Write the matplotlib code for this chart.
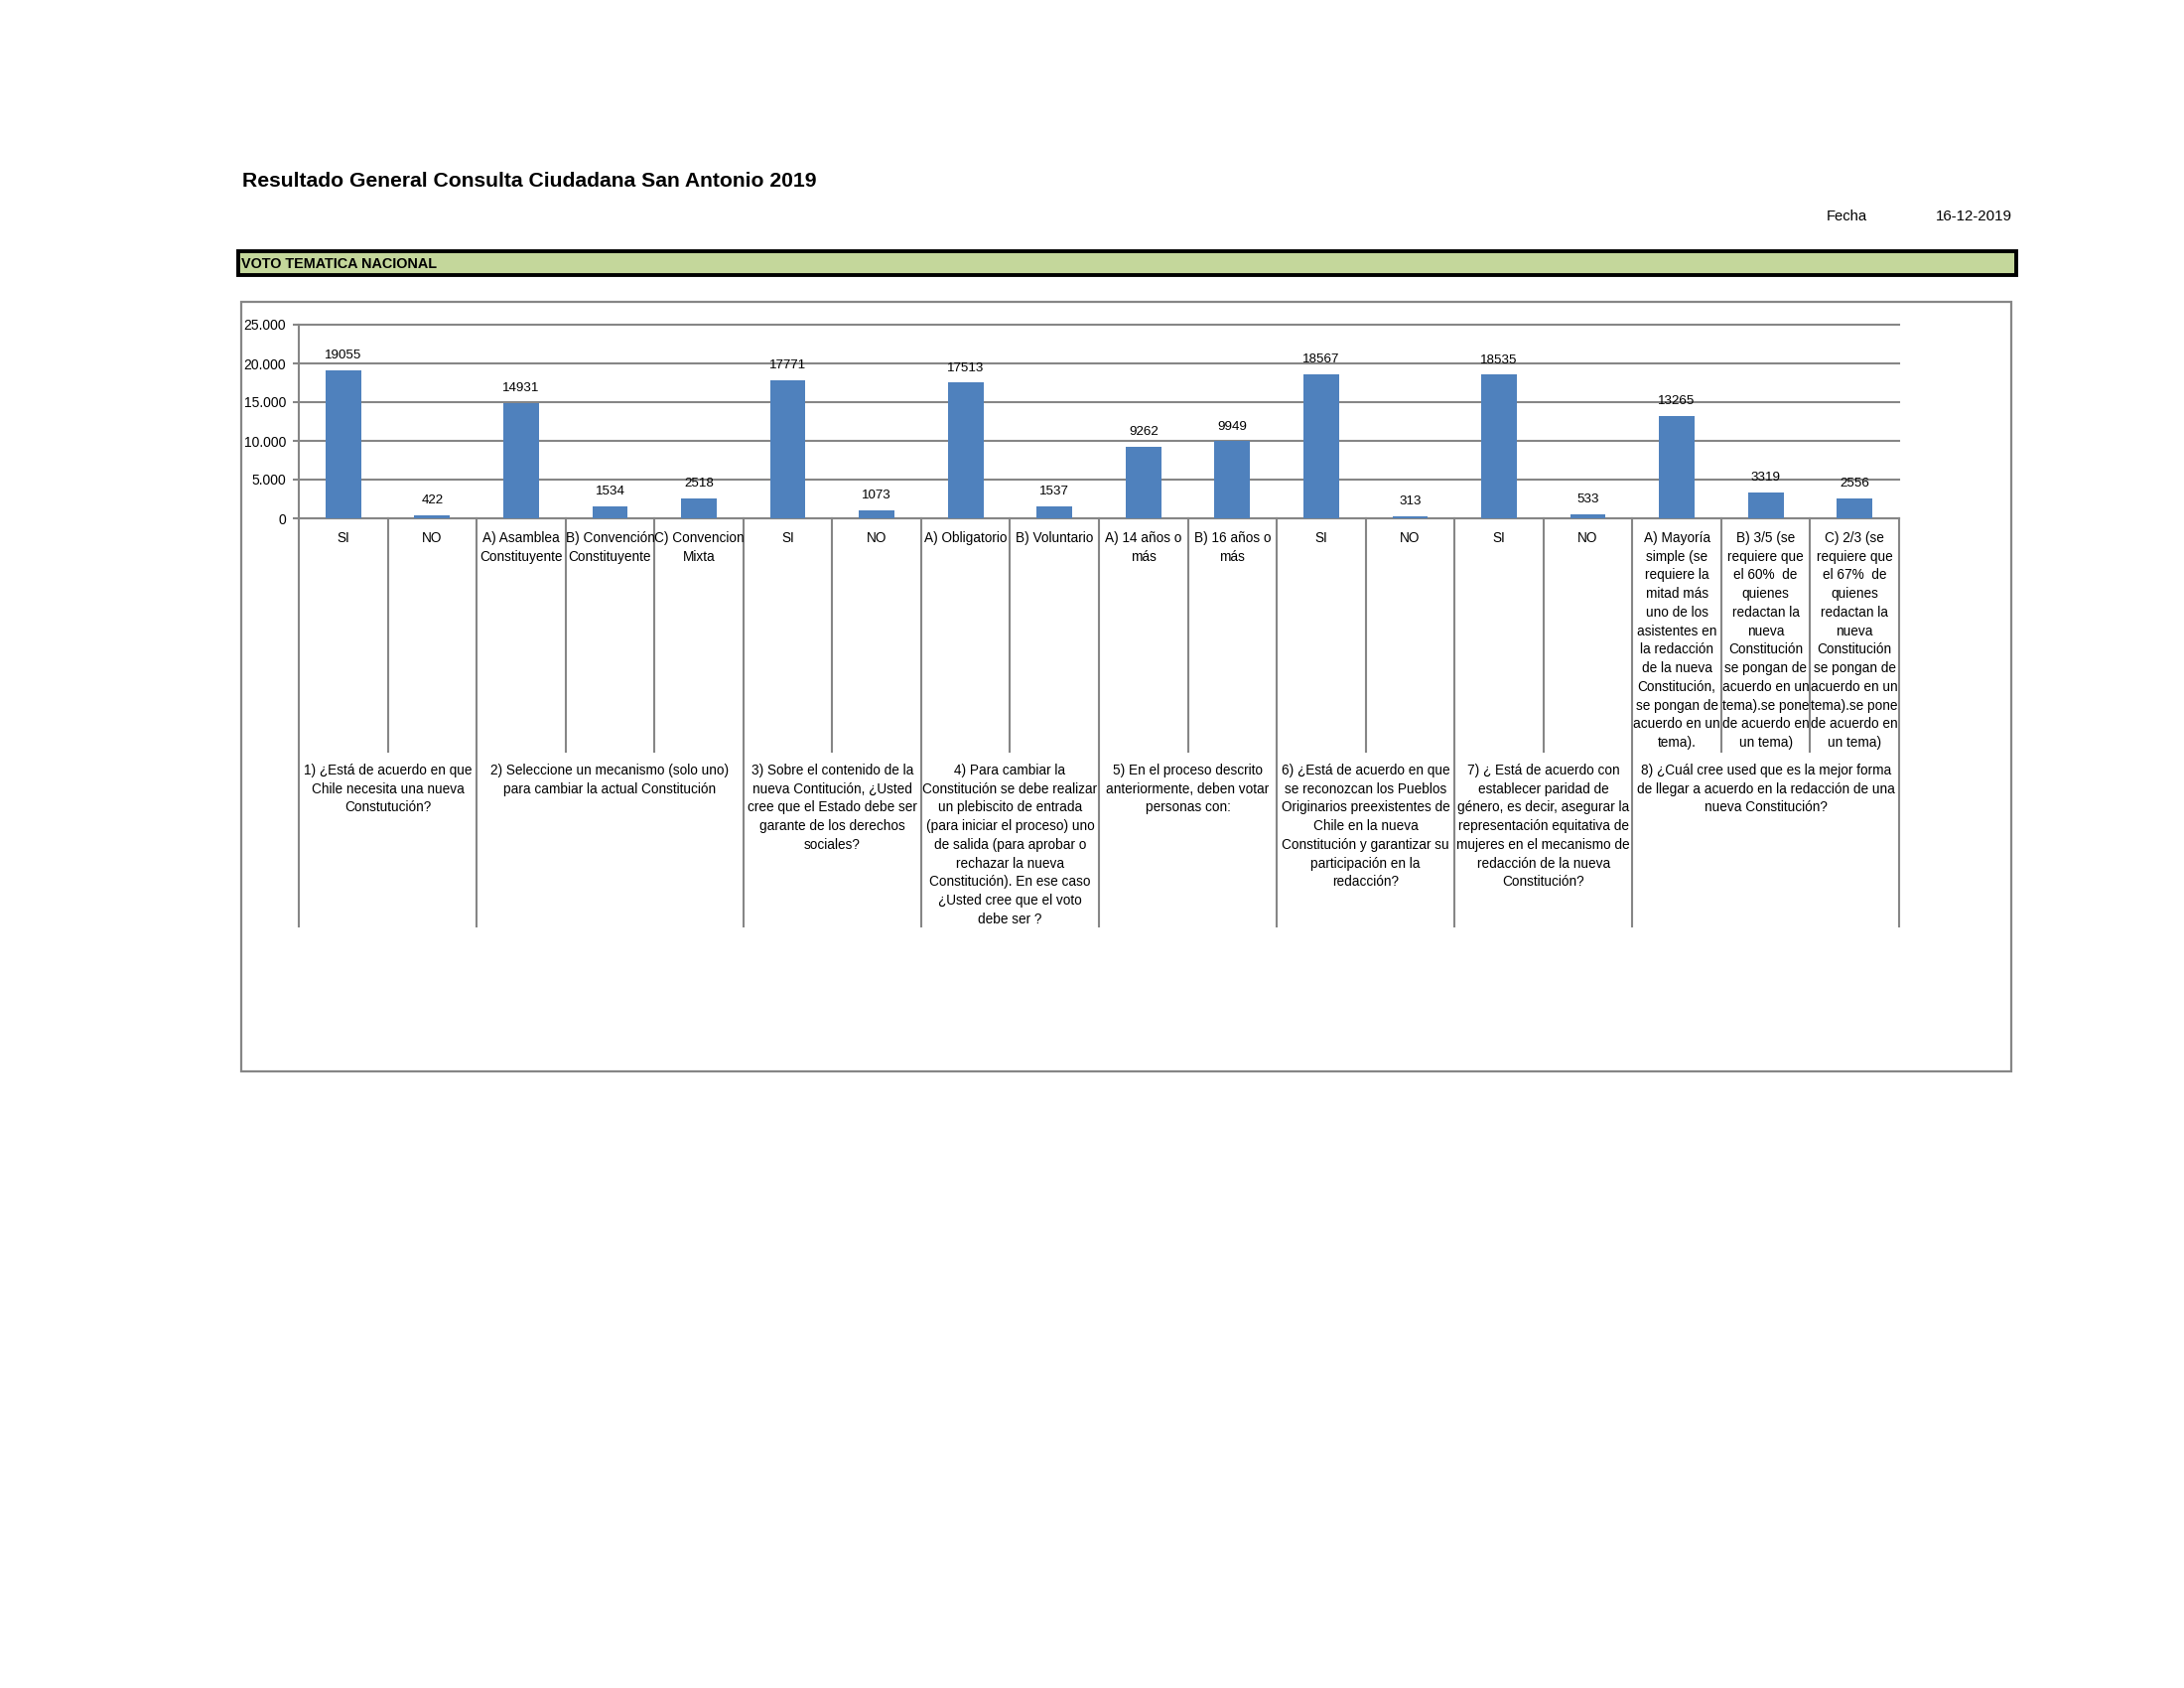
import matplotlib
matplotlib.use("Agg")
import matplotlib.pyplot as plt
from matplotlib import font_manager
from matplotlib.patches import Rectangle
from matplotlib.ticker import FuncFormatter, MultipleLocator
from matplotlib.transforms import blended_transform_factory

# Data
categories = [
    "SI", "NO",
    "A) Asamblea\nConstituyente", "B) Convención\nConstituyente", "C) Convencion\nMixta",
    "SI", "NO",
    "A) Obligatorio", "B) Voluntario",
    "A) 14 años o\nmás", "B) 16 años o\nmás",
    "SI", "NO",
    "SI", "NO",
    "A) Mayoría\nsimple (se\nrequiere la\nmitad más\nuno de los\nasistentes en\nla redacción\n"
    "de la nueva\nConstitución,\nse pongan de\nacuerdo en un\ntema).",
    "B) 3/5 (se\nrequiere que\nel 60%  de\nquienes\nredactan la\nnueva\nConstitución\n"
    "se pongan de\nacuerdo en un\ntema).se pone\nde acuerdo en\nun tema)",
    "C) 2/3 (se\nrequiere que\nel 67%  de\nquienes\nredactan la\nnueva\nConstitución\n"
    "se pongan de\nacuerdo en un\ntema).se pone\nde acuerdo en\nun tema)",
]
values = [19055, 422, 14931, 1534, 2518, 17771, 1073, 17513, 1537,
          9262, 9949, 18567, 313, 18535, 533, 13265, 3319, 2556]
questions = [
    "1) ¿Está de acuerdo en que\nChile necesita una nueva\nConstutución?",
    "2) Seleccione un mecanismo (solo uno)\npara cambiar la actual Constitución",
    "3) Sobre el contenido de la\nnueva Contitución, ¿Usted\ncree que el Estado debe ser\n"
    "garante de los derechos\nsociales?",
    "4) Para cambiar la\nConstitución se debe realizar\nun plebiscito de entrada\n"
    "(para iniciar el proceso) uno\nde salida (para aprobar o\nrechazar la nueva\n"
    "Constitución). En ese caso\n¿Usted cree que el voto\ndebe ser ?",
    "5) En el proceso descrito\nanteriormente, deben votar\npersonas con:",
    "6) ¿Está de acuerdo en que\nse reconozcan los Pueblos\nOriginarios preexistentes de\n"
    "Chile en la nueva\nConstitución y garantizar su\nparticipación en la\nredacción?",
    "7) ¿ Está de acuerdo con\nestablecer paridad de\ngénero, es decir, asegurar la\n"
    "representación equitativa de\nmujeres en el mecanismo de\nredacción de la nueva\nConstitución?",
    "8) ¿Cuál cree used que es la mejor forma\nde llegar a acuerdo en la redacción de una\n"
    "nueva Constitución?",
]
group_sizes = [2, 3, 2, 2, 2, 2, 2, 3]

title = "Resultado General Consulta Ciudadana San Antonio 2019"
section = "VOTO TEMATICA NACIONAL"
fecha_label = "Fecha"
fecha = "16-12-2019"

# fonts
available = {f.name for f in font_manager.fontManager.ttflist}
narrow = "Liberation Sans Narrow" if "Liberation Sans Narrow" in available else "Liberation Sans"
regular = "Liberation Sans" if "Liberation Sans" in available else "DejaVu Sans"
fam = [narrow, "DejaVu Sans"]

W, H = 2200, 1700
BLUE = "#4F81BD"
GRAY = "#868686"


def fx(px):
    return px / W


def fy(py):
    return 1 - py / H


fig = plt.figure(figsize=(11, 8.5), dpi=200)
fig.patch.set_facecolor("white")

# header
fig.text(fx(244), fy(183), title, fontsize=7.6, fontweight="bold",
         family=fam, ha="left", va="center")
fig.text(fx(1840), fy(218), fecha_label, fontsize=5.3, family=fam,
         ha="left", va="center")
fig.text(fx(2027), fy(218), fecha, fontsize=5.4, family=fam,
         ha="right", va="center")

fig.patches.append(Rectangle((fx(240), fy(277)), fx(2031) - fx(240), fy(253) - fy(277),
                             transform=fig.transFigure, facecolor="#C4D79B",
                             edgecolor="black", linewidth=1.4, zorder=1))
fig.text(fx(243), fy(266), section, fontsize=5.2, fontweight="bold",
         family=fam, ha="left", va="center", zorder=2)

# chart area border
fig.patches.append(Rectangle((fx(243), fy(1079)), fx(2026) - fx(243), fy(304) - fy(1079),
                             transform=fig.transFigure, facecolor="none",
                             edgecolor=GRAY, linewidth=0.8, zorder=1))

ax = fig.add_axes([fx(301), fy(522), fx(1913) - fx(301), fy(327) - fy(522)])
n = len(values)
xs = [i + 0.5 for i in range(n)]
ax.bar(xs, values, width=0.4, color=BLUE, zorder=3)
ax.set_xlim(0, n)
ax.set_ylim(0, 25000)
ax.yaxis.set_major_locator(MultipleLocator(5000))
ax.yaxis.set_major_formatter(FuncFormatter(lambda v, p: f"{int(v):,}".replace(",", ".")))
ax.grid(axis="y", color=GRAY, linewidth=0.75, zorder=0, clip_on=False)
ax.set_axisbelow(True)
ax.set_xticks([])
for s in ["top", "right"]:
    ax.spines[s].set_visible(False)
for s in ["left", "bottom"]:
    ax.spines[s].set_color(GRAY)
    ax.spines[s].set_linewidth(0.75)
ax.tick_params(axis="y", direction="out", length=2.2, width=0.75, color=GRAY,
               labelsize=5.0, pad=2.5)
for lab in ax.get_yticklabels():
    lab.set_family(regular)

for x, v in zip(xs, values):
    ax.annotate(str(v), (x, v), xytext=(0, 3.2), textcoords="offset points",
                ha="center", va="bottom", fontsize=4.8, family=regular, zorder=4)

# category table below the axis
tr = blended_transform_factory(ax.transData, fig.transFigure)
long_edges = [0]
for g in group_sizes:
    long_edges.append(long_edges[-1] + g)
for i in range(n + 1):
    bottom = 933 if i in long_edges else 757
    ax.plot([i, i], [fy(522), fy(bottom)], transform=tr, color=GRAY,
            linewidth=0.75, clip_on=False)

for x, lab in zip(xs, categories):
    ax.text(x, fy(535), lab, transform=tr, ha="center", va="top", fontsize=4.9,
            family=fam, linespacing=1.43, clip_on=False)

for k, q in enumerate(questions):
    cx = (long_edges[k] + long_edges[k + 1]) / 2
    ax.text(cx, fy(769), q, transform=tr, ha="center", va="top", fontsize=4.9,
            family=fam, linespacing=1.43, clip_on=False)

fig.savefig("out.png", dpi=200, facecolor="white")
